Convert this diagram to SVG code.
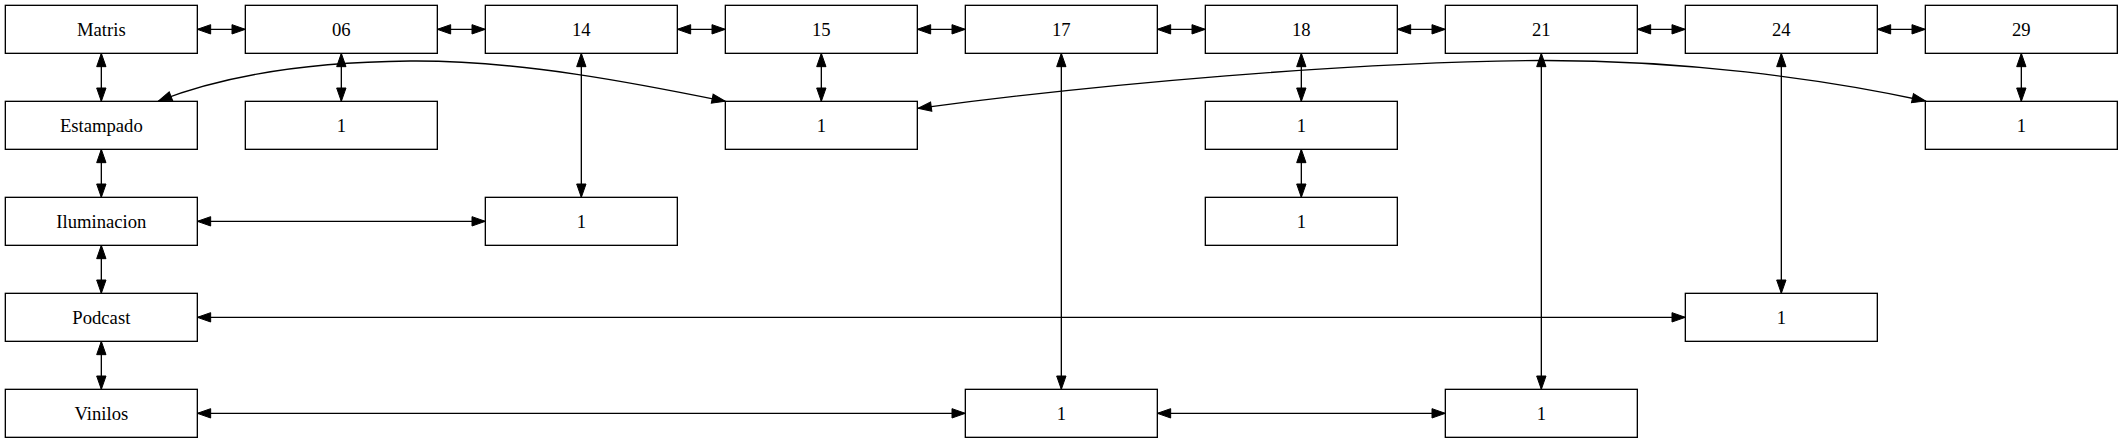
<svg xmlns="http://www.w3.org/2000/svg" width="2123" height="443" viewBox="0 0 2123 443">
<defs>
<marker id="ah" markerUnits="userSpaceOnUse" markerWidth="14" markerHeight="10" refX="13.33" refY="4.67" orient="auto-start-reverse" overflow="visible">
<path d="M0,0 L13.33,4.67 L0,9.33 Z" fill="#000" stroke="#000" stroke-width="1"/>
</marker>
<style>
.n rect{fill:#fff;stroke:#000;stroke-width:1.33}
.n text{font-size:18.67px;fill:#000;text-anchor:middle}
.e path,.e line{fill:none;stroke:#000;stroke-width:1.33;marker-start:url(#ah);marker-end:url(#ah)}
</style>
</defs>
<rect x="0" y="0" width="2123" height="443" fill="#fff"/>
<g class="e" id="connectors">
<line x1="197.33" y1="29.33" x2="245.33" y2="29.33"/>
<line x1="437.33" y1="29.33" x2="485.33" y2="29.33"/>
<line x1="677.33" y1="29.33" x2="725.33" y2="29.33"/>
<line x1="917.33" y1="29.33" x2="965.33" y2="29.33"/>
<line x1="1157.33" y1="29.33" x2="1205.33" y2="29.33"/>
<line x1="1397.33" y1="29.33" x2="1445.33" y2="29.33"/>
<line x1="1637.33" y1="29.33" x2="1685.33" y2="29.33"/>
<line x1="1877.33" y1="29.33" x2="1925.33" y2="29.33"/>
<line x1="101.33" y1="53.33" x2="101.33" y2="101.33"/>
<line x1="101.33" y1="149.33" x2="101.33" y2="197.33"/>
<line x1="101.33" y1="245.33" x2="101.33" y2="293.33"/>
<line x1="101.33" y1="341.33" x2="101.33" y2="389.33"/>
<line x1="341.33" y1="53.33" x2="341.33" y2="101.33"/>
<line x1="581.33" y1="53.33" x2="581.33" y2="197.33"/>
<line x1="821.33" y1="53.33" x2="821.33" y2="101.33"/>
<line x1="1061.33" y1="53.33" x2="1061.33" y2="389.33"/>
<line x1="1301.33" y1="53.33" x2="1301.33" y2="101.33"/>
<line x1="1301.33" y1="149.33" x2="1301.33" y2="197.33"/>
<line x1="1541.33" y1="53.33" x2="1541.33" y2="389.33"/>
<line x1="1781.33" y1="53.33" x2="1781.33" y2="293.33"/>
<line x1="2021.33" y1="53.33" x2="2021.33" y2="101.33"/>
<line x1="197.33" y1="221.33" x2="485.33" y2="221.33"/>
<line x1="197.33" y1="317.33" x2="1685.33" y2="317.33"/>
<line x1="197.33" y1="413.33" x2="965.33" y2="413.33"/>
<line x1="1157.33" y1="413.33" x2="1445.33" y2="413.33"/>
<path d="M158.5,101 C220,77 300,62 410,61 C520,60 640,84 725.3,101.3"/>
<path d="M918,108.3 C1100,84 1350,62 1540,60.5 C1680,60 1820,78 1925.5,101"/>
</g>
<g font-family="'Liberation Serif', 'Times New Roman', serif">
<g class="n" id="n_matris"><rect x="5.33" y="5.33" width="192" height="48"/><text x="101.33" y="35.5">Matris</text></g>
<g class="n" id="n_06"><rect x="245.33" y="5.33" width="192" height="48"/><text x="341.33" y="35.5">06</text></g>
<g class="n" id="n_14"><rect x="485.33" y="5.33" width="192" height="48"/><text x="581.33" y="35.5">14</text></g>
<g class="n" id="n_15"><rect x="725.33" y="5.33" width="192" height="48"/><text x="821.33" y="35.5">15</text></g>
<g class="n" id="n_17"><rect x="965.33" y="5.33" width="192" height="48"/><text x="1061.33" y="35.5">17</text></g>
<g class="n" id="n_18"><rect x="1205.33" y="5.33" width="192" height="48"/><text x="1301.33" y="35.5">18</text></g>
<g class="n" id="n_21"><rect x="1445.33" y="5.33" width="192" height="48"/><text x="1541.33" y="35.5">21</text></g>
<g class="n" id="n_24"><rect x="1685.33" y="5.33" width="192" height="48"/><text x="1781.33" y="35.5">24</text></g>
<g class="n" id="n_29"><rect x="1925.33" y="5.33" width="192" height="48"/><text x="2021.33" y="35.5">29</text></g>
<g class="n" id="n_estampado"><rect x="5.33" y="101.33" width="192" height="48"/><text x="101.33" y="131.5">Estampado</text></g>
<g class="n" id="n_06_1"><rect x="245.33" y="101.33" width="192" height="48"/><text x="341.33" y="131.5">1</text></g>
<g class="n" id="n_15_1"><rect x="725.33" y="101.33" width="192" height="48"/><text x="821.33" y="131.5">1</text></g>
<g class="n" id="n_18_1"><rect x="1205.33" y="101.33" width="192" height="48"/><text x="1301.33" y="131.5">1</text></g>
<g class="n" id="n_29_1"><rect x="1925.33" y="101.33" width="192" height="48"/><text x="2021.33" y="131.5">1</text></g>
<g class="n" id="n_iluminacion"><rect x="5.33" y="197.33" width="192" height="48"/><text x="101.33" y="227.5">Iluminacion</text></g>
<g class="n" id="n_14_1"><rect x="485.33" y="197.33" width="192" height="48"/><text x="581.33" y="227.5">1</text></g>
<g class="n" id="n_18_2"><rect x="1205.33" y="197.33" width="192" height="48"/><text x="1301.33" y="227.5">1</text></g>
<g class="n" id="n_podcast"><rect x="5.33" y="293.33" width="192" height="48"/><text x="101.33" y="323.5">Podcast</text></g>
<g class="n" id="n_24_1"><rect x="1685.33" y="293.33" width="192" height="48"/><text x="1781.33" y="323.5">1</text></g>
<g class="n" id="n_vinilos"><rect x="5.33" y="389.33" width="192" height="48"/><text x="101.33" y="419.5">Vinilos</text></g>
<g class="n" id="n_17_1"><rect x="965.33" y="389.33" width="192" height="48"/><text x="1061.33" y="419.5">1</text></g>
<g class="n" id="n_21_1"><rect x="1445.33" y="389.33" width="192" height="48"/><text x="1541.33" y="419.5">1</text></g>
</g>
</svg>
